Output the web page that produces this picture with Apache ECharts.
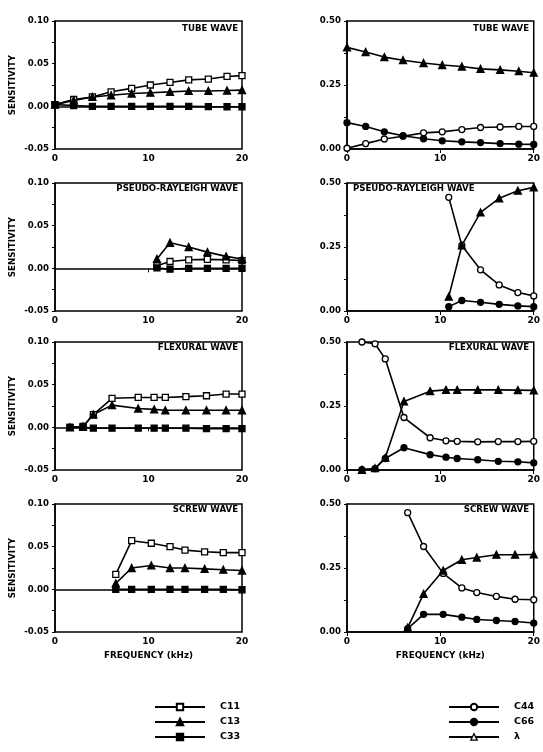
<!DOCTYPE html>
<html>
<head>
<meta charset="utf-8">
<script src="https://cdn.jsdelivr.net/npm/echarts@6/dist/echarts.min.js"></script>
<style>
  html, body { margin: 0; background: #fff; }
  #chart { width: 543px; height: 752px; }
</style>
</head>
<body>
<div id="chart"></div>
<script>
// frequency (kHz) and sensitivity values
var tubeF = [0, 2, 4, 6, 8.2, 10.2, 12.3, 14.3, 16.4, 18.4, 20];
var tubeC11 = [0.002, 0.008, 0.011, 0.017, 0.021, 0.025, 0.028, 0.031, 0.032, 0.035, 0.036];
var tubeC13 = [0.002, 0.007, 0.011, 0.013, 0.015, 0.016, 0.017, 0.018, 0.018, 0.0185, 0.019];
var tubeC33 = [0.002, 0.001, 0, 0, 0, 0, 0, 0, -0.0003, -0.0005, -0.0005];
var tubeC44 = [0.003, 0.021, 0.039, 0.050, 0.063, 0.067, 0.076, 0.084, 0.086, 0.088, 0.088];
var tubeC66 = [0.103, 0.088, 0.067, 0.052, 0.040, 0.032, 0.028, 0.025, 0.021, 0.019, 0.018];
var tubeLam = [0.397, 0.379, 0.359, 0.347, 0.336, 0.328, 0.322, 0.313, 0.309, 0.304, 0.298];

var psF = [10.9, 12.3, 14.3, 16.3, 18.3, 20];
var psC11 = [0.003, 0.008, 0.010, 0.0105, 0.010, 0.009];
var psC13 = [0.011, 0.030, 0.025, 0.019, 0.014, 0.011];
var psC33 = [0.0005, -0.001, 0, 0, 0, 0];
var psC44 = [0.444, 0.256, 0.161, 0.102, 0.072, 0.059];
var psC66 = [0.017, 0.041, 0.034, 0.026, 0.020, 0.017];
var psLam = [0.056, 0.256, 0.385, 0.440, 0.470, 0.483];

var flF = [1.6, 3.0, 4.1, 6.1, 8.9, 10.6, 11.8, 14.0, 16.2, 18.3, 20];
var flC11 = [0, 0.001, 0.015, 0.034, 0.035, 0.035, 0.035, 0.036, 0.037, 0.039, 0.039];
var flC13 = [0, 0.001, 0.015, 0.026, 0.022, 0.021, 0.020, 0.020, 0.020, 0.020, 0.020];
var flC33 = [0, 0, -0.001, -0.001, -0.001, -0.001, -0.001, -0.001, -0.0015, -0.0015, -0.0015];
var flC44 = [0.500, 0.493, 0.434, 0.205, 0.126, 0.114, 0.112, 0.110, 0.111, 0.111, 0.112];
var flC66 = [0.001, 0.005, 0.045, 0.087, 0.060, 0.050, 0.045, 0.040, 0.034, 0.032, 0.028];
var flLam = [0.001, 0.007, 0.048, 0.268, 0.308, 0.313, 0.313, 0.313, 0.313, 0.312, 0.311];

var scF = [6.5, 8.2, 10.3, 12.3, 13.9, 16.0, 18.0, 20];
var scC11 = [0.0176, 0.057, 0.054, 0.050, 0.046, 0.044, 0.043, 0.043];
var scC13 = [0.007, 0.025, 0.028, 0.025, 0.025, 0.024, 0.023, 0.022];
var scC33 = [0, 0, 0, 0, 0, 0, 0, -0.0005];
var scC44 = [0.466, 0.334, 0.229, 0.172, 0.154, 0.139, 0.128, 0.126];
var scC66 = [0.013, 0.069, 0.069, 0.058, 0.049, 0.045, 0.041, 0.035];
var scLam = [0.017, 0.149, 0.240, 0.282, 0.291, 0.302, 0.302, 0.303];

var panelTitles = ["TUBE WAVE", "PSEUDO-RAYLEIGH WAVE", "FLEXURAL WAVE", "SCREW WAVE"];
var leftNames = ["C11", "C13", "C33"];
var rightNames = ["C44", "C66", "λ"];

var FONT = "DejaVu Sans";
var tops = [21, 183, 342, 504];
var panelH = 128;

function pts(xs, ys) {
  return xs.map(function (x, i) { return [x, ys[i]]; });
}

// marker look for each curve (lambda prints dark in the panels, open in the key)
var marks = {
  "C11": { symbol: "rect", open: true, size: 6 },
  "C13": { symbol: "triangle", open: false, size: 7 },
  "C33": { symbol: "rect", open: false, size: 6 },
  "C44": { symbol: "circle", open: true, size: 6 },
  "C66": { symbol: "circle", open: false, size: 6 },
  "λ": { symbol: "triangle", open: false, size: 7 }
};

function line(name, idx, data) {
  var m = marks[name];
  return {
    name: name,
    type: "line",
    xAxisIndex: idx,
    yAxisIndex: idx,
    data: data,
    symbol: m.symbol,
    symbolSize: m.size,
    showAllSymbol: true,
    clip: false,
    lineStyle: { color: "#000", width: 1.6 },
    itemStyle: { color: m.open ? "#fff" : "#000", borderColor: "#000", borderWidth: 1.3 },
    emphasis: { disabled: true },
    animation: false
  };
}

var panels = [
  { f: tubeF, l: [tubeC11, tubeC13, tubeC33], r: [tubeC44, tubeC66, tubeLam] },
  { f: psF, l: [psC11, psC13, psC33], r: [psC44, psC66, psLam] },
  { f: flF, l: [flC11, flC13, flC33], r: [flC44, flC66, flLam] },
  { f: scF, l: [scC11, scC13, scC33], r: [scC44, scC66, scLam] }
];

var grid = [], xAxis = [], yAxis = [], series = [], graphic = [];

panels.forEach(function (p, r) {
  [0, 1].forEach(function (c) {
    var idx = r * 2 + c;
    grid.push({
      left: c == 0 ? 55 : 347,
      top: tops[r],
      width: 187,
      height: panelH,
      show: true,
      borderColor: "#000",
      borderWidth: 1.5,
      backgroundColor: "#fff"
    });
    xAxis.push({
      type: "value",
      gridIndex: idx,
      min: 0,
      max: 20,
      interval: 10,
      name: r == 3 ? "FREQUENCY (kHz)" : "",
      nameLocation: "middle",
      nameGap: 19,
      nameTextStyle: { fontFamily: FONT, fontSize: 8.8, fontWeight: "bold", color: "#000" },
      axisLine: { lineStyle: { color: "#000", width: 1.5 } },
      axisTick: { length: 4, lineStyle: { color: "#000" } },
      axisLabel: { fontFamily: FONT, fontSize: 9, fontWeight: "bold", color: "#000", margin: 5 },
      splitLine: { show: false }
    });
    yAxis.push({
      type: "value",
      gridIndex: idx,
      min: c == 0 ? -0.05 : 0,
      max: c == 0 ? 0.1 : 0.5,
      interval: c == 0 ? 0.05 : 0.25,
      name: c == 0 ? "SENSITIVITY" : "",
      nameLocation: "middle",
      nameGap: 38,
      nameTextStyle: { fontFamily: FONT, fontSize: 8.7, fontWeight: "bold", color: "#000" },
      axisLine: { show: true, lineStyle: { color: "#000", width: 1.5 } },
      axisTick: { show: true, length: 3, lineStyle: { color: "#000" } },
      minorTick: { show: true, splitNumber: 2, length: 3, lineStyle: { color: "#000" } },
      axisLabel: {
        fontFamily: FONT, fontSize: 8.6, fontWeight: "bold", color: "#000", margin: 6,
        formatter: function (v) { return v.toFixed(2); }
      },
      splitLine: { show: false }
    });
    var names = c == 0 ? leftNames : rightNames;
    var vals = c == 0 ? p.l : p.r;
    names.forEach(function (n, k) {
      series.push(line(n, idx, pts(p.f, vals[k])));
    });

    // panel caption inside the top of the frame
    var leftAligned = (r == 1 && c == 1);
    graphic.push({
      type: "text",
      x: leftAligned ? 353 : (c == 0 ? 238 : 529),
      y: tops[r] + (r == 0 ? 8 : 6),
      style: {
        text: panelTitles[r],
        fontFamily: FONT,
        fontSize: 8.6,
        fontWeight: "bold",
        fill: "#000",
        align: leftAligned ? "left" : "right",
        verticalAlign: "middle"
      },
      z: 100
    });
  });
});

var legendBase = {
  orient: "vertical",
  top: 702,
  itemWidth: 50,
  itemHeight: 8,
  itemGap: 5,
  selectedMode: false,
  padding: 0,
  textStyle: { fontFamily: FONT, fontSize: 9.5, fontWeight: "bold", color: "#000", padding: [0, 0, 0, 10] }
};

var chart = echarts.init(document.getElementById("chart"));
chart.setOption({
  backgroundColor: "#fff",
  animation: false,
  grid: grid,
  xAxis: xAxis,
  yAxis: yAxis,
  series: series,
  graphic: graphic,
  legend: [
    Object.assign({}, legendBase, { left: 154, data: leftNames }),
    Object.assign({}, legendBase, {
      left: 448,
      data: ["C44", "C66", { name: "λ", itemStyle: { color: "#fff", borderColor: "#000", borderWidth: 1.3 } }]
    })
  ]
});
window.addEventListener("resize", function () {
  chart.resize();
});
</script>
</body>
</html>
